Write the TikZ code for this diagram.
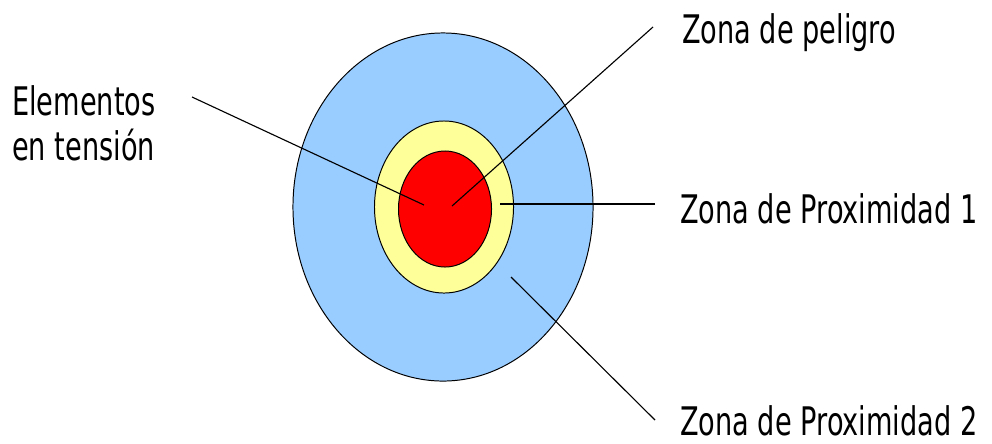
\documentclass[tikz,border=0pt]{standalone}
\usepackage{fontspec}
\setmainfont{DejaVu Sans}
\usetikzlibrary{shapes.geometric, positioning}

\definecolor{zoneblue}{HTML}{99CCFF}
\definecolor{zoneyellow}{HTML}{FFFF99}
\definecolor{zonered}{HTML}{FF0000}

\begin{document}
\begin{tikzpicture}[x=0.025cm, y=-0.025cm,
    zone/.style={draw, ellipse, line width=0.7pt, inner sep=0pt},
    lbl/.style={anchor=base west, xscale=0.69, transform shape, inner sep=0pt, align=left, font=\fontsize{28}{32}\selectfont},
    lead/.style={line width=0.8pt}]
    \useasboundingbox (0,0) rectangle (992,443);

    % Concentric zones
    \node (prox2) [zone, fill=zoneblue, minimum width=7.5cm, minimum height=8.7cm] at (443,207) {};
    \node (prox1) [zone, fill=zoneyellow, minimum width=3.475cm, minimum height=4.3cm] at (444,207) {};
    \node (danger) [zone, fill=zonered, minimum width=2.325cm, minimum height=2.9cm] at (445,209) {};

    % Labels
    \node (elem) [lbl] at (12,160) {Elementos\\en tensión};
    \node (peligro) [lbl] at (682,43) {Zona de peligro};
    \node (zp1) [lbl] at (680,223) {Zona de Proximidad 1};
    \node (zp2) [lbl] at (680,435) {Zona de Proximidad 2};

    % Leader line ends
    \coordinate (elemStart) at (192,97);
    \coordinate (elemEnd) at (424,205);
    \coordinate (pelStart) at (653,27);
    \coordinate (pelEnd) at (452,206);
    \coordinate (zp1Start) at (655,204);
    \coordinate (zp1End) at (500,204);
    \coordinate (zp2Start) at (655,420);
    \coordinate (zp2End) at (511,277);

    % Leader lines
    \draw[lead] (elemStart) -- (elemEnd);
    \draw[lead] (pelStart) -- (pelEnd);
    \draw[lead] (zp1Start) -- (zp1End);
    \draw[lead] (zp2Start) -- (zp2End);
\end{tikzpicture}
\end{document}
